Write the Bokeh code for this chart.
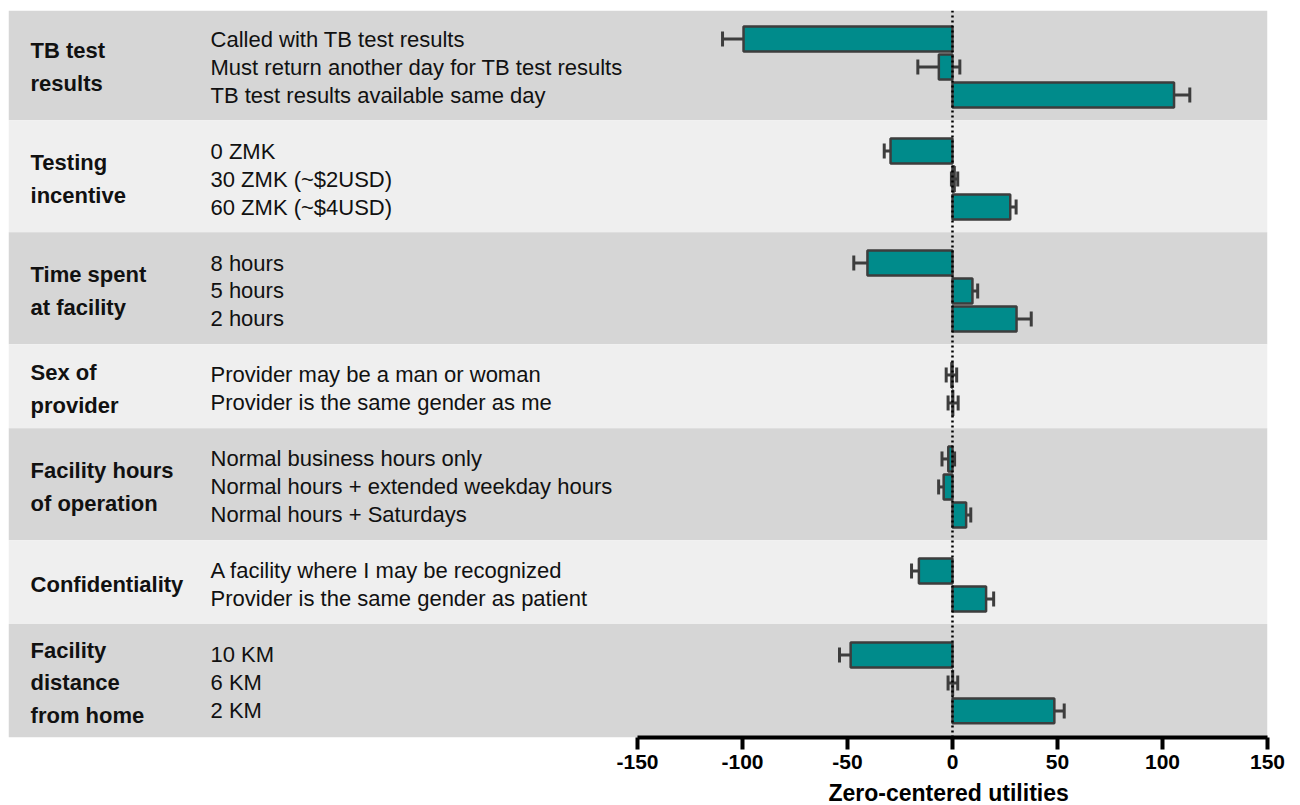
from bokeh.plotting import figure
from bokeh.models import (Range1d, FixedTicker, BoxAnnotation, Span, Whisker, TeeHead,
                          ColumnDataSource, Title)
from bokeh.core.properties import value
from bokeh.embed import file_html
from bokeh.resources import INLINE

# ---------------- data ----------------
group_labels = ["TB test\nresults", "Testing\nincentive", "Time spent\nat facility",
                "Sex of\nprovider", "Facility hours\nof operation", "Confidentiality",
                "Facility\ndistance\nfrom home"]
group_sizes = [3, 3, 3, 2, 3, 2, 3]
levels = [
    "Called with TB test results",
    "Must return another day for TB test results",
    "TB test results available same day",
    "0 ZMK",
    "30 ZMK (~$2USD)",
    "60 ZMK (~$4USD)",
    "8 hours",
    "5 hours",
    "2 hours",
    "Provider may be a man or woman",
    "Provider is the same gender as me",
    "Normal business hours only",
    "Normal hours + extended weekday hours",
    "Normal hours + Saturdays",
    "A facility where I may be recognized",
    "Provider is the same gender as patient",
    "10 KM",
    "6 KM",
    "2 KM",
]
utilities = [-99.5, -6.5, 105.5,
             -29.5, 1.0, 27.5,
             -40.5, 9.5, 30.5,
             -0.5, 0.3,
             -2.0, -4.2, 6.5,
             -16.0, 16.0,
             -48.5, 0.2, 48.5]
errors = [10.0, 10.0, 7.5,
          3.0, 1.5, 2.8,
          6.5, 2.5, 7.0,
          2.5, 2.4,
          3.0, 2.4, 2.2,
          3.5, 3.6,
          5.3, 2.3, 4.7]
x_ticks = [-150, -100, -50, 0, 50, 100, 150]
x_tick_labels = ["-150", "-100", "-50", "0", "50", "100", "150"]
x_title = "Zero-centered utilities"

# ---------------- layout / style ----------------
FONT = "Liberation Sans"
BAND_DARK = "#d6d6d6"
BAND_LIGHT = "#efefef"
BAR_FILL = "#008b8b"
EDGE = "#3d3d3d"

# row index for each level (one empty row between groups)
row_pos = []
group_mid = []
group_bounds = []
idx = 0
for n in group_sizes:
    rows = list(range(idx, idx + n))
    row_pos.extend(rows)
    group_mid.append((rows[0] + rows[-1]) / 2)
    group_bounds.append((rows[0], rows[-1]))
    idx += n + 1

Y_TOP = -1.02
Y_BOT = row_pos[-1] + 0.95
X_MIN = -449.5
X_MAX = 150

p = figure(width=1300, height=805, output_backend="svg", toolbar_location=None,
           x_range=Range1d(X_MIN, X_MAX), y_range=Range1d(Y_BOT, Y_TOP),
           min_border_left=8, min_border_right=33, min_border_top=10, min_border_bottom=68,
           y_axis_location=None)
p.outline_line_color = None
p.xgrid.visible = False
p.ygrid.visible = False
p.background_fill_color = "white"
p.border_fill_color = "white"

# bands
for i, (a, b) in enumerate(group_bounds):
    top = Y_TOP if i == 0 else a - 1.1
    bot = Y_BOT if i == len(group_bounds) - 1 else b + 0.9
    p.add_layout(BoxAnnotation(top=top, bottom=bot, fill_color=BAND_DARK if i % 2 == 0 else BAND_LIGHT,
                               fill_alpha=1.0, line_color=None, level="underlay"))

src = ColumnDataSource(dict(
    y=row_pos, util=utilities,
    lower=[u - e for u, e in zip(utilities, errors)],
    upper=[u + e for u, e in zip(utilities, errors)],
    label=levels,
))

p.hbar(y="y", left=0, right="util", height=0.89, source=src,
       fill_color=BAR_FILL, line_color=EDGE, line_width=2.5)

wh = Whisker(source=src, base="y", lower="lower", upper="upper", dimension="width",
             line_color=EDGE, line_width=3,
             lower_head=TeeHead(size=15, line_color=EDGE, line_width=3),
             upper_head=TeeHead(size=15, line_color=EDGE, line_width=3))
p.add_layout(wh)

p.add_layout(Span(location=0, dimension="height", line_color="black", line_width=2.5, line_dash="2 3"))

# level labels
LEVEL_X = -353.3
p.text(x=LEVEL_X, y="y", text="label", source=src, text_font=value(FONT), text_font_size="22px",
       text_color="#111111", text_baseline="middle", text_align="left")

# group labels
GROUP_X = -439
p.text(x=[GROUP_X] * len(group_labels), y=group_mid, text=group_labels, text_font=value(FONT),
       text_font_size="22px", text_font_style="bold", text_color="#111111",
       text_baseline="middle", text_align="left", text_line_height=1.3)

# axis
ax = p.xaxis[0]
ax.bounds = (x_ticks[0], x_ticks[-1])
ax.ticker = FixedTicker(ticks=x_ticks)
ax.major_label_overrides = {t: s for t, s in zip(x_ticks, x_tick_labels)}
ax.axis_line_width = 4
ax.axis_line_color = "black"
ax.major_tick_line_width = 4
ax.major_tick_line_color = "black"
ax.major_tick_in = 0
ax.major_tick_out = 12
ax.minor_tick_line_color = None
ax.major_label_text_font = FONT
ax.major_label_text_font_style = "bold"
ax.major_label_text_font_size = "21px"
ax.major_label_text_color = "black"
ax.major_label_standoff = 5

# axis title centred under the 0 tick (placed below the axis)
frame_px = 1300 - 8 - 33
px_per_unit = frame_px / (X_MAX - X_MIN)
title = Title(text=x_title, align="left", text_font=FONT, text_font_style="bold",
              text_font_size="23px", text_color="black", standoff=0,
              offset=(0 - X_MIN) * px_per_unit - 124, padding=(0, 0, 6, 0))
p.add_layout(title, "below")

open("out.html", "w").write(file_html(p, INLINE))
